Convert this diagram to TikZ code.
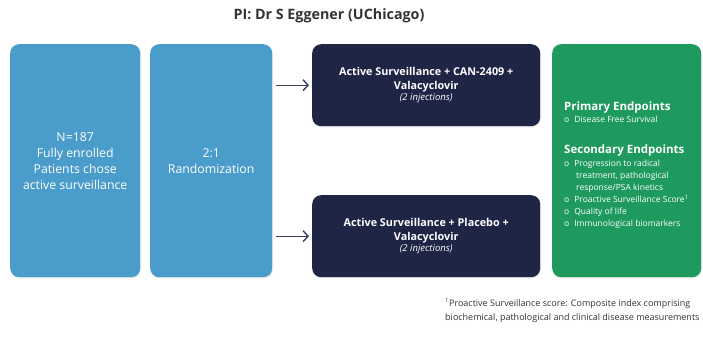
\documentclass[tikz,border=0pt]{standalone}
\usepackage{fontspec}
\setmainfont{Open Sans}
\usetikzlibrary{arrows.meta,shadows}
\definecolor{boxblue}{HTML}{4A9CCB}
\definecolor{navy}{HTML}{1F2545}
\definecolor{ggreen}{HTML}{1F9A5F}
\definecolor{txtgray}{HTML}{333333}
\definecolor{arrowcol}{HTML}{3A3F5C}
\begin{document}
\begin{tikzpicture}[x=1pt,y=-1pt,
  panel/.style={rounded corners=9pt, anchor=north west, inner sep=0pt, drop shadow={opacity=0.18, shadow xshift=0.8pt, shadow yshift=-1.2pt}},
  bluebox/.style={panel, fill=boxblue},
  bluetxt/.style={text=white, align=center, font=\fontsize{12.3}{16}\selectfont, anchor=center},
  navybox/.style={panel, fill=navy, minimum width=228pt, minimum height=82pt},
  navytxt/.style={text=white, align=center, font=\fontsize{10.8}{14}\selectfont\bfseries, anchor=center},
  greentxt/.style={anchor=base west, inner sep=0pt, text=white},
  head/.style={greentxt, font=\fontsize{11.5}{14}\selectfont\bfseries},
  item/.style={greentxt, font=\fontsize{8.5}{12}\selectfont},
  arr/.style={draw=arrowcol, line width=1.4pt, -{Straight Barb[length=5pt,width=11pt,line width=1.4pt]}}
]
\useasboundingbox (0,0) rectangle (703,340);

\node[text=txtgray, font=\fontsize{14.3}{16}\selectfont\bfseries, anchor=base] (title) at (329,19) {PI: Dr S Eggener (UChicago)};

\node[bluebox, minimum width=130pt, minimum height=233pt] (b1) at (10,44) {};
\node[bluetxt] (b1t) at (b1.center) {N=187\\Fully enrolled\\Patients chose\\active surveillance};

\node[bluebox, minimum width=122pt, minimum height=233pt] (b2) at (150,44) {};
\node[bluetxt] (b2t) at (b2.center) {2:1\\Randomization};

\node[navybox] (d1) at (312,44) {};
\node[navytxt] (d1t) at (d1.center) {Active Surveillance + CAN-2409 +\\Valacyclovir\\[-3pt]{\fontsize{9.5}{11}\selectfont\mdseries\itshape (2 injections)}};

\node[navybox] (d2) at (312,195) {};
\node[navytxt] (d2t) at (d2.center) {Active Surveillance + Placebo +\\Valacyclovir\\[-3pt]{\fontsize{9.5}{11}\selectfont\mdseries\itshape (2 injections)}};

\node[panel, fill=ggreen, minimum width=149pt, minimum height=233pt] (g) at (552,44) {};

\node[head] (h1) at (564,110) {Primary Endpoints};
\node[item] (i1) at (564,122) {o\hspace{5pt}Disease Free Survival};
\node[head] (h2) at (564,153) {Secondary Endpoints};
\node[item] (i2) at (564,166) {o\hspace{5pt}Progression to radical};
\node[item] (i2b) at (576,178) {treatment, pathological};
\node[item] (i2c) at (576,190) {response/PSA kinetics};
\node[item] (i3) at (564,202) {o\hspace{5pt}Proactive Surveillance Score\textsuperscript{1}};
\node[item] (i4) at (564,214) {o\hspace{5pt}Quality of life};
\node[item] (i5) at (564,226) {o\hspace{5pt}Immunological biomarkers};

\draw[arr] ([xshift=4pt]b2.east |- d1.west) -- ([xshift=-3pt]d1.west);
\draw[arr] ([xshift=4pt]b2.east |- d2.west) -- ([xshift=-3pt]d2.west);

\node[anchor=base west, inner sep=0pt, text=txtgray, align=left, font=\fontsize{9}{13.5}\selectfont] (fn) at (445,320) {\textsuperscript{1}Proactive Surveillance score: Composite index comprising\\biochemical, pathological and clinical disease measurements};
\end{tikzpicture}
\end{document}
